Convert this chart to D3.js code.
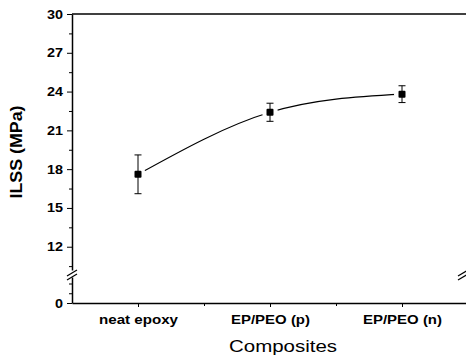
<!DOCTYPE html>
<meta charset="utf-8">
<script src="https://cdnjs.cloudflare.com/ajax/libs/d3/7.8.5/d3.min.js"></script>
<style>
body { margin: 0; background: #fff; }
text { font-family: "Liberation Sans", Arial, sans-serif; fill: #000; }
.axis path, .axis line { stroke: #000; }
</style>
<body>
<script>
// data
var categories = ["neat epoxy", "EP/PEO (p)", "EP/PEO (n)"];
var ilss = [17.6, 22.4, 23.8];
var ilssErr = [1.5, 0.7, 0.65];
var upperTicks = [12, 15, 18, 21, 24, 27, 30];
var lowerTicks = [0];

var w = 466, h = 357;
var mLeft = 72, mTop = 14, mBottom = 303;

var svg = d3.select("body").append("svg")
    .attr("width", w)
    .attr("height", h);

// x scale (category index, axis starts half a step before the first one)
var x = d3.scaleLinear().domain([-0.5, 2.5]).range([mLeft, 468]);

// broken y axis: upper and lower pieces
var yUp = d3.scaleLinear().domain([10.2, 30]).range([270, mTop]);
var yLow = d3.scaleLinear().domain([0, 2.0]).range([mBottom, 277]);

// upper y axis
svg.append("g").attr("class", "axis yax")
    .attr("transform", "translate(" + mLeft + ",0)")
    .call(d3.axisLeft(yUp).tickValues(upperTicks).tickSize(5).tickPadding(4).tickSizeOuter(0).tickFormat(d3.format("d")));
// minor ticks
svg.append("g").attr("class", "axis")
    .attr("transform", "translate(" + mLeft + ",0)")
    .call(d3.axisLeft(yUp).tickValues(d3.range(10.5, 30, 3)).tickSize(3).tickFormat("").tickSizeOuter(0))
    .select(".domain").remove();

// lower y axis
svg.append("g").attr("class", "axis yax")
    .attr("transform", "translate(" + mLeft + ",0)")
    .call(d3.axisLeft(yLow).tickValues(lowerTicks).tickSize(5).tickPadding(4).tickSizeOuter(0).tickFormat(d3.format("d")));
svg.append("g").attr("class", "axis")
    .attr("transform", "translate(" + mLeft + ",0)")
    .call(d3.axisLeft(yLow).tickValues([0.75, 1.5]).tickSize(3).tickFormat("").tickSizeOuter(0))
    .select(".domain").remove();

svg.selectAll(".yax text")
    .style("font-size", "12.5px")
    .style("font-weight", "bold")
    .attr("textLength", function(d) { return String(d).length * 8; })
    .attr("lengthAdjust", "spacingAndGlyphs");

// x axis
var xAxis = d3.axisBottom(x).tickValues([0, 1, 2]).tickSize(4).tickPadding(8).tickSizeOuter(0)
    .tickFormat(function(d) { return categories[d]; });
var gx = svg.append("g").attr("class", "axis")
    .attr("transform", "translate(0," + mBottom + ")")
    .call(xAxis);
gx.selectAll("text")
    .style("font-size", "13px")
    .style("font-weight", "bold")
    .attr("textLength", 79)
    .attr("lengthAdjust", "spacingAndGlyphs");
svg.append("g").attr("class", "axis")
    .attr("transform", "translate(0," + mBottom + ")")
    .call(d3.axisBottom(x).tickValues([0.5, 1.5]).tickSize(3).tickFormat("").tickSizeOuter(0))
    .select(".domain").remove();

svg.selectAll(".axis .domain").attr("stroke-width", 1.5);

// top frame line
svg.append("line")
    .attr("x1", mLeft).attr("x2", w)
    .attr("y1", mTop).attr("y2", mTop)
    .attr("stroke", "#000").attr("stroke-width", 1.5);

// break marks
function breakMark(cx) {
  [0, 4].forEach(function(o) {
    svg.append("line")
      .attr("x1", cx - 5).attr("y1", 276 + o)
      .attr("x2", cx + 5).attr("y2", 270 + o)
      .attr("stroke", "#000").attr("stroke-width", 1.2);
  });
}
breakMark(mLeft);
breakMark(463);

// fitted curve
var pts = categories.map(function(c, i) { return [x(i), yUp(ilss[i])]; });
svg.append("path")
    .attr("d", d3.line().curve(d3.curveNatural)(pts))
    .attr("fill", "none")
    .attr("stroke", "#000")
    .attr("stroke-width", 1.1);

// white gap round the markers
svg.selectAll(".halo").data(ilss).enter().append("circle")
    .attr("cx", function(d, i) { return x(i); })
    .attr("cy", function(d) { return yUp(d); })
    .attr("r", 8)
    .attr("fill", "#fff");

// error bars
var eb = svg.selectAll(".err").data(ilss).enter().append("g").attr("class", "err");
eb.append("line")
    .attr("x1", function(d, i) { return x(i); })
    .attr("x2", function(d, i) { return x(i); })
    .attr("y1", function(d, i) { return yUp(d + ilssErr[i]); })
    .attr("y2", function(d, i) { return yUp(d - ilssErr[i]); })
    .attr("stroke", "#000");
[1, -1].forEach(function(s) {
  eb.append("line")
    .attr("x1", function(d, i) { return x(i) - 3.5; })
    .attr("x2", function(d, i) { return x(i) + 3.5; })
    .attr("y1", function(d, i) { return yUp(d + s * ilssErr[i]); })
    .attr("y2", function(d, i) { return yUp(d + s * ilssErr[i]); })
    .attr("stroke", "#000");
});

// markers
svg.selectAll(".pt").data(ilss).enter().append("rect")
    .attr("x", function(d, i) { return x(i) - 3.5; })
    .attr("y", function(d) { return yUp(d) - 3.5; })
    .attr("width", 7).attr("height", 7)
    .attr("rx", 1)
    .attr("fill", "#000");

// axis titles
svg.append("text")
    .attr("transform", "rotate(-90)")
    .attr("x", -152).attr("y", 22)
    .attr("text-anchor", "middle")
    .style("font-size", "16.5px")
    .style("font-weight", "bold")
    .attr("textLength", 93)
    .attr("lengthAdjust", "spacingAndGlyphs")
    .text("ILSS (MPa)");

svg.append("text")
    .attr("x", 283).attr("y", 352)
    .attr("text-anchor", "middle")
    .style("font-size", "16px")
    .attr("textLength", 108)
    .attr("lengthAdjust", "spacingAndGlyphs")
    .text("Composites");
</script>
</body>
